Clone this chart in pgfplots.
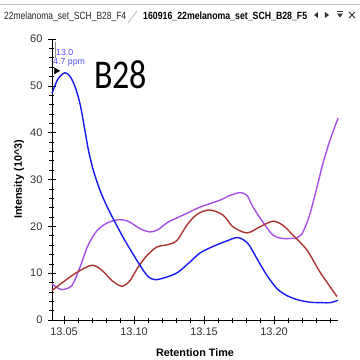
\documentclass[border=0pt]{standalone}
\usepackage{pgfplots}
\pgfplotsset{compat=1.18}
\usepackage{fontspec}
\setmainfont{Liberation Sans}
\newfontfamily\calibri{Carlito}

\definecolor{cblue}{RGB}{25,25,245}
\definecolor{cpurple}{RGB}{165,80,232}
\definecolor{cred}{RGB}{172,52,52}
\definecolor{cnote}{RGB}{80,80,250}

\begin{document}
\begin{tikzpicture}[x=1pt,y=1pt]
\useasboundingbox (0,0) rectangle (360,360);
% tab strip
\draw[black!25, line width=0.8pt] (0,356) -- (360,356);
\draw[black!30, line width=0.6pt] (128,337) -- (137,349);
\node[anchor=base west, inner sep=0pt, text=black!85] at (4,341)
  {\resizebox{122pt}{7.6pt}{22melanoma\_set\_SCH\_B28\_F4}};
\node[anchor=base west, inner sep=0pt] at (143,341)
  {\resizebox{164pt}{7.6pt}{\bfseries 160916\_22melanoma\_set\_SCH\_B28\_F5}};
\fill[black!80] (314,345) -- (318,348) -- (318,342) -- cycle;
\fill[black!80] (325,348) -- (325,342) -- (329,345) -- cycle;
\draw[black!80, line width=0.8pt] (337,349) -- (343,349);
\fill[black!80] (337,346.5) -- (343,346.5) -- (340,342.5) -- cycle;
\draw[black!80, line width=0.9pt] (349,348) -- (355,342) (349,342) -- (355,348);

\begin{axis}[
  at={(52pt,40pt)}, anchor=south west,
  scale only axis, width=286pt, height=281pt,
  xmin=13.0414, xmax=13.2457, ymin=0, ymax=60,
  axis lines=left, axis line style={-, black, line width=0.7pt},
  xtick={13.05,13.10,13.15,13.20},
  xticklabels={13.05,13.10,13.15,13.20},
  minor xtick={13.06,13.07,13.08,13.09,13.11,13.12,13.13,13.14,13.16,13.17,13.18,13.19,13.21,13.22,13.23,13.24},
  ytick={0,10,20,30,40,50,60},
  minor ytick={2,4,6,8,12,14,16,18,22,24,26,28,32,34,36,38,42,44,46,48,52,54,56,58},
  tick align=center, major tick length=8pt, minor tick length=5pt,
  every tick/.style={black, line width=0.6pt},
  ticklabel style={font=\fontsize{11}{13}\selectfont, text=black!80},
  yticklabel style={xshift=-2pt},
  /pgf/number format/assume math mode=true,
  xlabel={\bfseries Retention Time},
  xlabel style={at={(axis description cs:0.5,-0.1306)}, anchor=base,
    font=\fontsize{10.8}{13}\selectfont},
  ylabel={\bfseries Intensity (10\^{}3)},
  ylabel style={at={(axis description cs:-0.1049,0.5)}, anchor=base, rotate=0,
    font=\fontsize{10.8}{13}\selectfont},
  clip=false,
]
\addplot[cpurple, line width=1.4pt, smooth, tension=0.5] coordinates {
 (13.0414,7.7) (13.0457,6.8) (13.0493,6.5) (13.0557,7.4) (13.0614,11.3)
 (13.0671,15.9) (13.0736,19.1) (13.0807,20.7) (13.0886,21.4) (13.0957,21.1)
 (13.1043,19.5) (13.1114,18.8) (13.1171,19.3) (13.1243,20.9) (13.1329,22.1)
 (13.1400,23.1) (13.1471,24.1) (13.1614,25.6) (13.1686,26.6) (13.1757,27.2)
 (13.1807,26.6) (13.1850,24.1) (13.1921,20.9) (13.1993,18.1) (13.2064,17.4)
 (13.2164,17.6) (13.2207,18.8) (13.2257,22.7) (13.2307,28.4) (13.2350,33.5)
 (13.2400,38.4) (13.2457,43.1)
};
\addplot[cred, line width=1.4pt, smooth, tension=0.5] coordinates {
 (13.0414,6.3) (13.0493,8.1) (13.0593,10.2) (13.0700,11.7) (13.0771,10.6)
 (13.0843,8.4) (13.0914,7.2) (13.0971,8.4) (13.1029,11.3) (13.1093,13.8)
 (13.1164,15.6) (13.1243,16.1) (13.1307,17.0) (13.1381,20.4) (13.1452,22.6)
 (13.1540,23.5) (13.1636,22.4) (13.1707,19.9) (13.1807,18.6) (13.1900,19.9)
 (13.1993,21.1) (13.2064,20.2) (13.2136,18.1) (13.2236,14.9) (13.2329,10.2)
 (13.2450,5.0)
};
\addplot[cblue, line width=1.4pt, smooth, tension=0.5] coordinates {
 (13.0414,48.4) (13.0457,51.5) (13.0507,52.8) (13.0543,52.0) (13.0579,49.8)
 (13.0614,46.2) (13.0645,41.2) (13.0674,36.3) (13.0709,32.0) (13.0757,27.7)
 (13.0814,23.8) (13.0921,17.7) (13.1021,12.7) (13.1093,9.5) (13.1150,8.6)
 (13.1236,9.2) (13.1314,10.2) (13.1400,12.4) (13.1471,14.3) (13.1564,15.7)
 (13.1664,16.9) (13.1743,17.6) (13.1814,16.3) (13.1886,12.7) (13.1950,9.5)
 (13.2021,6.7) (13.2093,5.2) (13.2171,4.3) (13.2257,3.8) (13.2343,3.7)
 (13.2400,3.7) (13.2457,4.2)
};
\addplot[only marks, mark=triangle*, mark size=3.6pt, black,
  mark options={rotate=-90}] coordinates {(13.0443,53.2)};
\end{axis}
% peak annotation
\draw[black!45, line width=0.4pt] (55,302) -- (55,318);
\node[anchor=base west, inner sep=0pt, text=cnote, font=\fontsize{8.8}{10}\selectfont]
  at (56,304.5) {13.0};
\node[anchor=base west, inner sep=0pt, text=cnote, font=\fontsize{8.8}{10}\selectfont]
  at (53,295) {4.7 ppm};
\node[anchor=base west, inner sep=0pt] at (94,272)
  {\scalebox{1}[1.2]{\calibri\fontsize{34}{40}\selectfont B28}};
\end{tikzpicture}
\end{document}
